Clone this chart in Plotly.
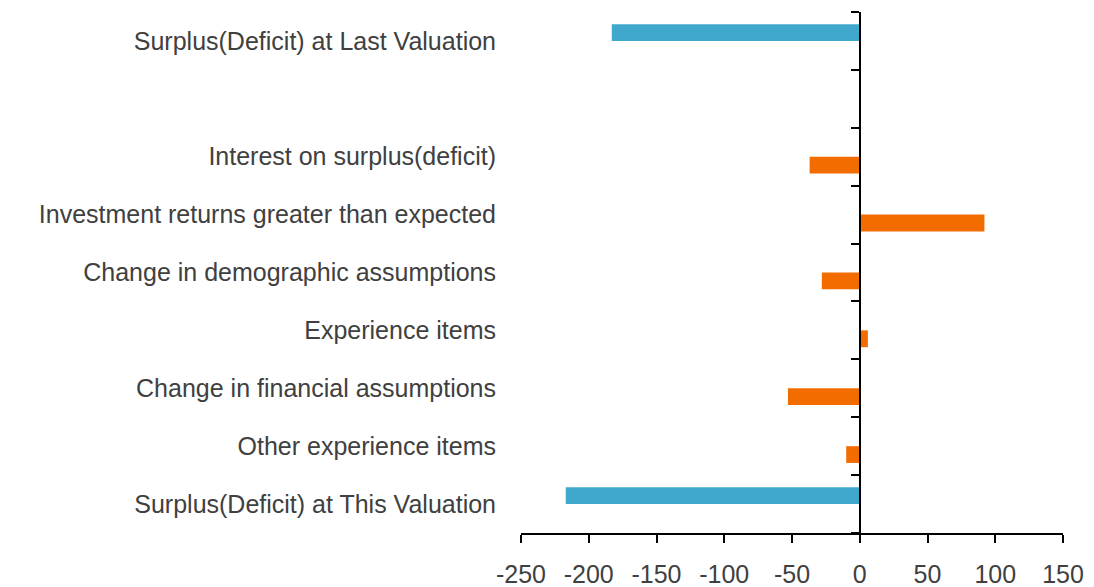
'''
    Horizontal bar chart: movement from the surplus(deficit) at the last
    valuation to the surplus(deficit) at this valuation.
'''

import plotly.graph_objects as go

# Categories top to bottom (blank slot is an empty row in the chart)
categories = [
    "Surplus(Deficit) at Last Valuation",
    " ",
    "Interest on surplus(deficit)",
    "Investment returns greater than expected",
    "Change in demographic assumptions",
    "Experience items",
    "Change in financial assumptions",
    "Other experience items",
    "Surplus(Deficit) at This Valuation",
]

# Totals (blue) and movements (orange)
totals = [-183, None, None, None, None, None, None, None, -217]
movements = [None, None, -37, 92, -28, 6, -53, -10, None]

x_range = [-250, 150]
x_ticks = [-250, -200, -150, -100, -50, 0, 50, 100, 150]

BLUE = "#41A8CD"
ORANGE = "#F26C00"
TEXT = "#404040"
FONT = "Liberation Sans, Arial, sans-serif"


def init_figure():
    fig = go.Figure()
    # page body adds an 8px margin, so the figure is shifted by 8px
    fig.update_layout(
        template="simple_white",
        width=1078,
        height=579,
        margin=dict(l=513, r=23, t=4, b=54),
        barmode="group",
        bargap=0.42,
        bargroupgap=0,
        showlegend=False,
        font=dict(family=FONT, color=TEXT, size=25),
        plot_bgcolor="white",
        paper_bgcolor="white",
    )
    return fig


def draw_bars(fig):
    fig.add_trace(go.Bar(y=categories, x=totals, orientation="h",
                         marker_color=BLUE, marker_line_width=0,
                         name="Total"))
    fig.add_trace(go.Bar(y=categories, x=movements, orientation="h",
                         marker_color=ORANGE, marker_line_width=0,
                         name="Movement"))
    # hidden helper so the zero axis (y2) gets drawn
    fig.add_trace(go.Scatter(x=[0], y=[0], yaxis="y2", mode="markers",
                             marker_opacity=0, hoverinfo="skip",
                             showlegend=False))
    return fig


def style_axes(fig):
    n = len(categories)
    # fraction of the plot width where x = 0 sits
    zero_pos = (0 - x_range[0]) / (x_range[1] - x_range[0])

    fig.update_xaxes(
        range=x_range,
        tickvals=x_ticks,
        ticktext=[str(v) for v in x_ticks],
        ticks="outside",
        ticklen=8,
        tickwidth=2,
        tickcolor="black",
        showline=True,
        linewidth=2,
        linecolor="black",
        showgrid=False,
        zeroline=False,
        automargin=False,
        ticklabelstandoff=10,
        tickfont=dict(size=25, color=TEXT),
    )
    # category labels on the left edge of the plot area
    fig.update_layout(yaxis=dict(
        type="category",
        categoryorder="array",
        categoryarray=categories,
        range=[n - 0.5, -0.5],
        showline=False,
        ticks="",
        showgrid=False,
        zeroline=False,
        automargin=False,
        ticklabelstandoff=24,
        tickfont=dict(size=25, color=TEXT),
    ))
    # vertical axis line at x = 0 with ticks between categories
    fig.update_layout(yaxis2=dict(
        overlaying="y",
        anchor="free",
        position=zero_pos,
        side="left",
        range=[n - 0.5, -0.5],
        tickvals=[i - 0.5 for i in range(n + 1)],
        showticklabels=False,
        ticks="outside",
        ticklen=8,
        tickwidth=2,
        tickcolor="black",
        showline=True,
        linewidth=2,
        linecolor="black",
        showgrid=False,
        zeroline=False,
        automargin=False,
    ))
    return fig


fig = init_figure()
fig = draw_bars(fig)
fig = style_axes(fig)
fig.write_html("out.html")
